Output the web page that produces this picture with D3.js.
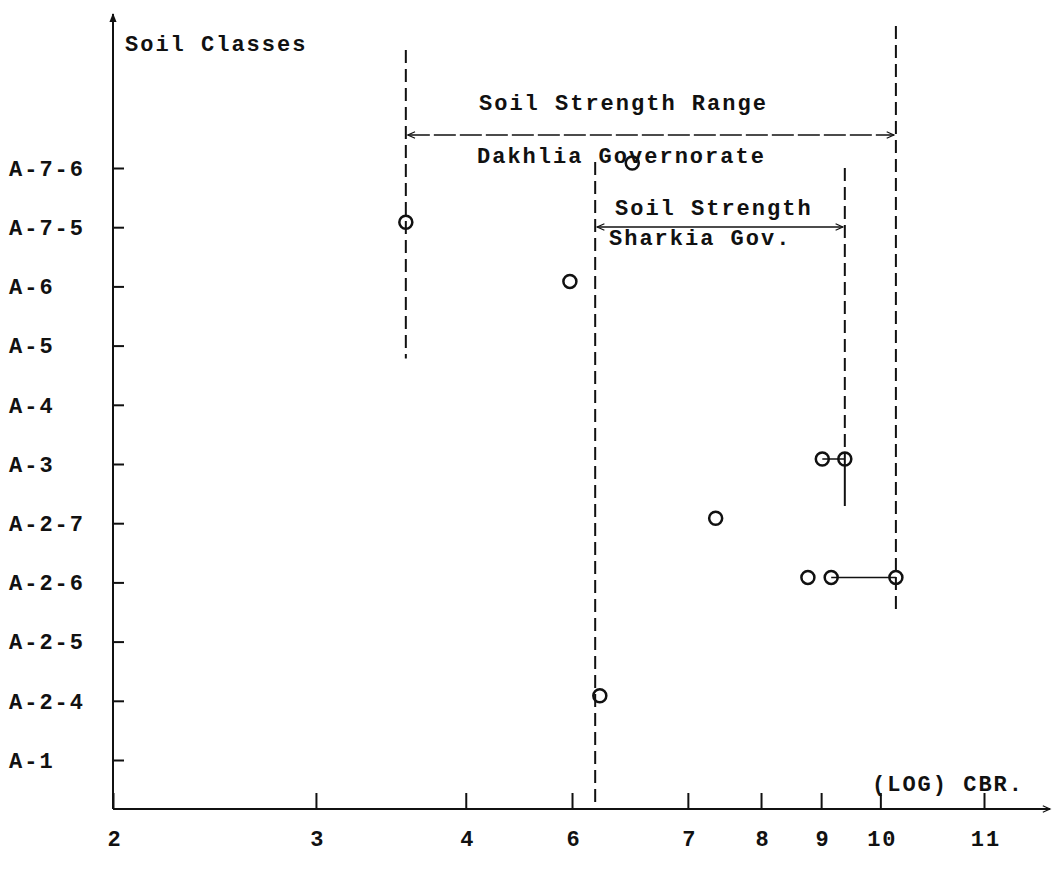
<!DOCTYPE html>
<html>
<head>
<meta charset="utf-8">
<script src="https://cdn.jsdelivr.net/npm/d3@7"></script>
<style>
  body { margin: 0; background: #fff; }
  text { font-family: "Liberation Mono", "DejaVu Sans Mono", monospace; font-size: 22px; font-weight: bold; letter-spacing: 2px; fill: #111; }
</style>
</head>
<body>
<div id="chart"></div>
<script>
// soil classes, top to bottom on the y axis
const classes = ["A-7-6", "A-7-5", "A-6", "A-5", "A-4", "A-3", "A-2-7", "A-2-6", "A-2-5", "A-2-4", "A-1"];
// hand drawn (LOG) CBR axis, tick labels as printed
const xTicks = [2, 3, 4, 6, 7, 8, 9, 10, 11];
// relative place of each tick along the axis (the paper scale is not even)
const xTickFrac = [0, 0.233, 0.405, 0.527, 0.66, 0.744, 0.813, 0.881, 1];

// measured samples
const pointClass = ["A-7-6", "A-7-5", "A-6", "A-3", "A-3", "A-2-7", "A-2-6", "A-2-6", "A-2-6", "A-2-4"];
const pointCbr = [6.52, 3.6, 5.96, 9.02, 9.4, 7.38, 8.78, 9.17, 10.15, 6.24];

// solid joins between samples of the same class
const linkClass = ["A-3", "A-2-6"];
const linkFrom = [9.02, 9.17];
const linkTo = [9.4, 10.15];

// strength ranges
const rangeNames = ["Dakhlia Governorate", "Sharkia Gov."];
const rangeLow = [3.6, 6.2];
const rangeHigh = [10.15, 9.4];

const W = 1054, H = 872;
const x0 = 113, x1 = 984, yAxis = 809;

const svg = d3.select("#chart").append("svg")
  .attr("width", W).attr("height", H);

const defs = svg.append("defs");
defs.append("marker").attr("id", "open").attr("viewBox", "0 0 10 10")
  .attr("refX", 9).attr("refY", 5).attr("markerWidth", 10).attr("markerHeight", 8)
  .attr("orient", "auto-start-reverse").attr("markerUnits", "userSpaceOnUse")
  .append("path").attr("d", "M0,1 L9,5 L0,9").attr("fill", "none").attr("stroke", "#111").attr("stroke-width", 1.5);
defs.append("marker").attr("id", "solid").attr("viewBox", "0 0 10 10")
  .attr("refX", 9).attr("refY", 5).attr("markerWidth", 9).attr("markerHeight", 9)
  .attr("orient", "auto").attr("markerUnits", "userSpaceOnUse")
  .append("path").attr("d", "M0,1 L10,5 L0,9 Z").attr("fill", "#111");

const x = d3.scaleLinear()
  .domain(xTicks)
  .range(xTickFrac.map(f => x0 + f * (x1 - x0)));

const y = d3.scalePoint()
  .domain(classes)
  .range([168, 760]);

// axes lines with arrows
svg.append("line").attr("x1", x0).attr("x2", x0).attr("y1", yAxis).attr("y2", 14)
  .attr("stroke", "#111").attr("stroke-width", 2).attr("marker-end", "url(#solid)");
svg.append("line").attr("x1", x0).attr("x2", 1050).attr("y1", yAxis).attr("y2", yAxis)
  .attr("stroke", "#111").attr("stroke-width", 2).attr("marker-end", "url(#open)");

// y axis ticks + labels
const yAx = svg.append("g").attr("transform", `translate(${x0},0)`)
  .call(d3.axisRight(y).tickSize(11).tickFormat(""));
yAx.select(".domain").remove();
yAx.selectAll(".tick line").attr("stroke", "#111").attr("stroke-width", 2);

svg.append("g").selectAll("text").data(classes).join("text")
  .attr("x", 9).attr("y", d => y(d)).attr("dy", "0.35em")
  .text(d => d);

// x axis ticks + labels
const xAx = svg.append("g").attr("transform", `translate(0,${yAxis})`)
  .call(d3.axisTop(x).tickValues(xTicks).tickSize(16).tickFormat(""));
xAx.select(".domain").remove();
xAx.selectAll(".tick line").attr("stroke", "#111").attr("stroke-width", 2);

svg.append("g").selectAll("text").data(xTicks).join("text")
  .attr("x", d => x(d) + 2).attr("y", 838).attr("dy", "0.35em")
  .attr("text-anchor", "middle")
  .text(d => d);

svg.append("text").attr("x", 125).attr("y", 43).attr("dy", "0.35em").text("Soil Classes");
svg.append("text").attr("x", 872).attr("y", 783).attr("dy", "0.35em").text("(LOG) CBR.");

// dashed range bounds
const dash = "13,6";
const guide = (v, ya, yb, da) => svg.append("line")
  .attr("x1", x(v)).attr("x2", x(v)).attr("y1", ya).attr("y2", yb)
  .attr("stroke", "#111").attr("stroke-width", 2).attr("stroke-dasharray", da || dash);

guide(rangeLow[0], 50, y("A-5") + 13);
guide(rangeHigh[0], 26, y("A-2-6") + 28);
guide(rangeLow[1], 162, yAxis);
guide(rangeHigh[1], 168, y("A-3") - 6);
guide(rangeHigh[1], y("A-3") - 6, y("A-3") + 42, "none");

// range arrows
const arrowY = [135, 227];
rangeNames.forEach((n, i) => {
  svg.append("line")
    .attr("x1", x(rangeLow[i]) + 2).attr("x2", x(rangeHigh[i]) - 2)
    .attr("y1", arrowY[i]).attr("y2", arrowY[i])
    .attr("stroke", "#111").attr("stroke-width", 1.5)
    .attr("stroke-dasharray", i === 0 ? "22,4" : "none")
    .attr("marker-start", "url(#open)").attr("marker-end", "url(#open)");
});

svg.append("text").attr("x", 479).attr("y", 102).attr("dy", "0.35em").text("Soil Strength Range");
svg.append("text").attr("x", 477).attr("y", 155).attr("dy", "0.35em").text(rangeNames[0]);
svg.append("text").attr("x", 615).attr("y", 207).attr("dy", "0.35em").text("Soil Strength");
svg.append("text").attr("x", 609).attr("y", 237).attr("dy", "0.35em").text(rangeNames[1]);

// joins
svg.append("g").selectAll("line").data(linkClass).join("line")
  .attr("x1", (d, i) => x(linkFrom[i])).attr("x2", (d, i) => x(linkTo[i]))
  .attr("y1", d => y(d) - 5).attr("y2", d => y(d) - 5)
  .attr("stroke", "#111").attr("stroke-width", 1.5);

// sample points
svg.append("g").selectAll("circle").data(pointCbr).join("circle")
  .attr("cx", d => x(d))
  .attr("cy", (d, i) => y(pointClass[i]) - 5)
  .attr("r", 6.5)
  .attr("fill", "none")
  .attr("stroke", "#111")
  .attr("stroke-width", 2.5);
</script>
</body>
</html>
